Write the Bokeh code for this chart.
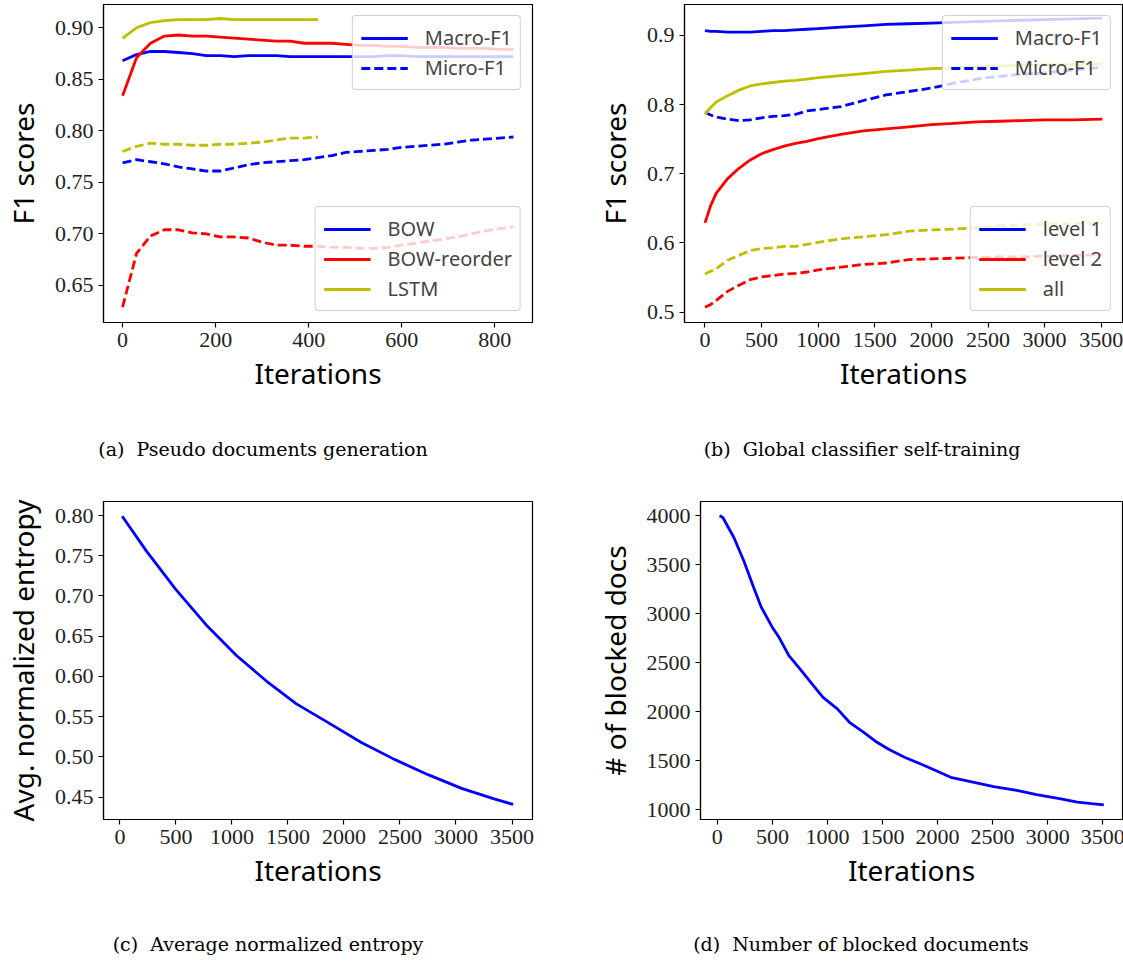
from bokeh.plotting import figure
from bokeh.models import (Range1d, FixedTicker, PrintfTickFormatter, Legend,
                          LegendItem, Div)
from bokeh.layouts import column, row
from bokeh.embed import file_html
from bokeh.resources import INLINE

# ---------------- data ----------------
# (a) pseudo documents generation
iters_a = [0, 30, 60, 90, 120, 150, 180, 210, 240, 270, 300, 330, 360, 390, 420,
           450, 480, 510, 540, 570, 600, 630, 660, 690, 720, 750, 780, 810, 840]
bow_macro = [0.868, 0.874, 0.877, 0.877, 0.876, 0.875, 0.873, 0.873, 0.872, 0.873,
             0.873, 0.873, 0.872, 0.872, 0.872, 0.872, 0.872, 0.872, 0.872, 0.873,
             0.873, 0.872, 0.872, 0.872, 0.872, 0.872, 0.872, 0.872, 0.872]
bow_micro = [0.769, 0.772, 0.770, 0.768, 0.765, 0.763, 0.761, 0.761, 0.764, 0.767,
             0.769, 0.770, 0.771, 0.772, 0.774, 0.776, 0.779, 0.780, 0.781, 0.782,
             0.784, 0.785, 0.786, 0.787, 0.789, 0.791, 0.792, 0.793, 0.794]
reorder_macro = [0.834, 0.871, 0.885, 0.892, 0.893, 0.892, 0.892, 0.891, 0.890, 0.889,
                 0.888, 0.887, 0.887, 0.885, 0.885, 0.885, 0.884, 0.883, 0.883, 0.882,
                 0.882, 0.881, 0.881, 0.881, 0.880, 0.880, 0.880, 0.879, 0.879]
reorder_micro = [0.629, 0.681, 0.698, 0.704, 0.704, 0.701, 0.700, 0.697, 0.697, 0.696,
                 0.692, 0.689, 0.689, 0.688, 0.688, 0.687, 0.687, 0.686, 0.686, 0.687,
                 0.689, 0.691, 0.693, 0.695, 0.697, 0.700, 0.703, 0.705, 0.707]
iters_lstm = [0, 30, 60, 90, 120, 150, 180, 210, 240, 270, 300, 330, 360, 390, 420]
lstm_macro = [0.890, 0.900, 0.905, 0.907, 0.908, 0.908, 0.908, 0.909, 0.908, 0.908,
              0.908, 0.908, 0.908, 0.908, 0.908]
lstm_micro = [0.780, 0.785, 0.788, 0.787, 0.787, 0.786, 0.786, 0.787, 0.787, 0.788,
              0.789, 0.791, 0.793, 0.793, 0.794]

# (b) global classifier self-training
iters_b = [0, 50, 100, 200, 300, 400, 500, 600, 700, 800, 900, 1000, 1200, 1400,
           1600, 1800, 2000, 2200, 2400, 2600, 2800, 3000, 3250, 3510]
lvl1_macro = [0.907, 0.906, 0.906, 0.905, 0.905, 0.905, 0.906, 0.907, 0.907, 0.908,
              0.909, 0.910, 0.912, 0.914, 0.916, 0.917, 0.918, 0.919, 0.920, 0.921,
              0.922, 0.923, 0.924, 0.925]
lvl1_micro = [0.789, 0.785, 0.782, 0.779, 0.777, 0.778, 0.781, 0.783, 0.784, 0.786,
              0.791, 0.793, 0.797, 0.806, 0.814, 0.819, 0.824, 0.831, 0.837, 0.841,
              0.844, 0.846, 0.850, 0.854]
lvl2_macro = [0.629, 0.654, 0.672, 0.693, 0.708, 0.720, 0.729, 0.735, 0.740, 0.744,
              0.747, 0.751, 0.757, 0.762, 0.765, 0.768, 0.771, 0.773, 0.775, 0.776,
              0.777, 0.778, 0.778, 0.779]
lvl2_micro = [0.507, 0.511, 0.517, 0.530, 0.539, 0.547, 0.551, 0.553, 0.555, 0.556,
              0.558, 0.561, 0.565, 0.569, 0.571, 0.576, 0.577, 0.578, 0.579, 0.580,
              0.580, 0.581, 0.582, 0.583]
all_macro = [0.786, 0.796, 0.804, 0.813, 0.821, 0.827, 0.830, 0.832, 0.834, 0.835,
             0.837, 0.839, 0.842, 0.845, 0.848, 0.850, 0.852, 0.853, 0.855, 0.856,
             0.857, 0.858, 0.858, 0.859]
all_micro = [0.555, 0.559, 0.563, 0.575, 0.582, 0.589, 0.592, 0.593, 0.595, 0.595,
             0.598, 0.601, 0.606, 0.609, 0.612, 0.617, 0.619, 0.620, 0.622, 0.625,
             0.626, 0.627, 0.628, 0.629]

# (c) average normalized entropy
iters_c = [20, 235, 500, 770, 1040, 1310, 1575, 1855, 2155, 2450, 2750, 3050,
           3340, 3510]
entropy = [0.799, 0.756, 0.708, 0.664, 0.626, 0.594, 0.566, 0.543, 0.518, 0.497,
           0.478, 0.461, 0.448, 0.441]

# (d) number of blocked documents
iters_d = [20, 50, 150, 240, 330, 400, 500, 560, 650, 750, 860, 960, 1090, 1200,
           1330, 1450, 1560, 1700, 1880, 2120, 2300, 2510, 2720, 2900, 3120, 3270,
           3400, 3510]
blocked = [4000, 3983, 3779, 3541, 3269, 3065, 2861, 2760, 2573, 2437, 2284, 2148,
           2030, 1893, 1791, 1689, 1615, 1536, 1452, 1332, 1288, 1237, 1197, 1156,
           1112, 1078, 1062, 1050]

captions = ["(a)&nbsp;&nbsp;Pseudo documents generation",
            "(b)&nbsp;&nbsp;Global classifier self-training",
            "(c)&nbsp;&nbsp;Average normalized entropy",
            "(d)&nbsp;&nbsp;Number of blocked documents"]

# ---------------- styling ----------------
BLUE, RED, OLIVE = "#0000ff", "#ff0000", "#bfbf00"
SERIF = "Liberation Serif"
SANS = "Noto Sans"
LW = 2.8
DASH = "9 4"


def make_fig(left, right, top, bottom, fw, fh, xr, yr, xticks, yticks, xfmt, yfmt,
             ylabel):
    p = figure(frame_width=fw, frame_height=fh,
               min_border_left=left, min_border_right=right,
               min_border_top=top, min_border_bottom=bottom,
               x_range=Range1d(*xr), y_range=Range1d(*yr),
               output_backend="svg", toolbar_location=None,
               background_fill_color="white", border_fill_color="white")
    p.grid.visible = False
    p.outline_line_color = "black"
    p.outline_line_width = 1.2
    p.outline_line_alpha = 1.0
    for ax, ticks, fmt in ((p.xaxis[0], xticks, xfmt), (p.yaxis[0], yticks, yfmt)):
        ax.ticker = FixedTicker(ticks=ticks)
        ax.formatter = PrintfTickFormatter(format=fmt)
        ax.minor_tick_line_color = None
        ax.major_tick_in = 0
        ax.major_tick_out = 5
        ax.major_tick_line_width = 1.2
        ax.axis_line_width = 1.2
        ax.axis_line_color = "black"
        ax.major_tick_line_color = "black"
        ax.major_label_text_font = SERIF
        ax.major_label_text_font_size = "22px"
        ax.major_label_text_color = "#222222"
        ax.major_label_standoff = 5
        ax.axis_label_text_font = SANS
        ax.axis_label_text_font_size = "28px"
        ax.axis_label_text_font_style = "normal"
        ax.axis_label_text_color = "black"
    p.xaxis.axis_label = "Iterations"
    p.xaxis.axis_label_standoff = 4
    p.yaxis.axis_label = ylabel
    p.yaxis.axis_label_standoff = 10
    return p


def make_caption(text, width, height, cx, cy):
    # caption line under a sub-figure, centred at (cx, cy) inside its strip
    html = ('<div style="display:inline-block; position:relative; '
            f'left:{cx}px; top:{cy}px; transform:translate(-50%,-50%); '
            "font-family:'DejaVu Serif'; font-size:19px; line-height:1; "
            f'white-space:nowrap; color:black;">{text}</div>')
    return Div(text=html, width=width, height=height,
               styles={"margin": "0", "padding": "0", "overflow": "visible"})


def make_legend(items, location):
    leg = Legend(items=items, location=location, margin=11,
                 glyph_width=47, glyph_height=20, label_height=20,
                 label_standoff=17, padding=8, spacing=3,
                 label_text_font=SANS, label_text_font_size="20px",
                 background_fill_color="white", background_fill_alpha=0.8,
                 border_line_color="#cccccc", border_line_width=1.2,
                 border_line_alpha=0.9)
    if "border_radius" in Legend.properties():
        leg.border_radius = 4
    return leg


# ---------------- (a) ----------------
pa = make_fig(99, 32, 4, 98, 429, 318, (-41, 881), (0.614, 0.9226),
              [0, 200, 400, 600, 800], [0.65, 0.70, 0.75, 0.80, 0.85, 0.90],
              "%d", "%.2f", "F1 scores")
ra_bow = pa.line(iters_a, bow_macro, line_color=BLUE, line_width=LW)
ra_bow_mi = pa.line(iters_a, bow_micro, line_color=BLUE, line_width=LW, line_dash=DASH)
ra_reo = pa.line(iters_a, reorder_macro, line_color=RED, line_width=LW)
pa.line(iters_a, reorder_micro, line_color=RED, line_width=LW, line_dash=DASH)
ra_lstm = pa.line(iters_lstm, lstm_macro, line_color=OLIVE, line_width=LW)
pa.line(iters_lstm, lstm_micro, line_color=OLIVE, line_width=LW, line_dash=DASH)

pa.add_layout(make_legend([LegendItem(label="Macro-F1", renderers=[ra_bow]),
                           LegendItem(label="Micro-F1", renderers=[ra_bow_mi])],
                          "top_right"), "center")
pa.add_layout(make_legend([LegendItem(label="BOW", renderers=[ra_bow]),
                           LegendItem(label="BOW-reorder", renderers=[ra_reo]),
                           LegendItem(label="LSTM", renderers=[ra_lstm])],
                          "bottom_right"), "center")

# ---------------- (b) ----------------
pb = make_fig(120, 5, 4, 98, 438, 318, (-181, 3688), (0.485, 0.9448),
              [0, 500, 1000, 1500, 2000, 2500, 3000, 3500],
              [0.5, 0.6, 0.7, 0.8, 0.9], "%d", "%.1f", "F1 scores")
rb_l1 = pb.line(iters_b, lvl1_macro, line_color=BLUE, line_width=LW)
rb_l1_mi = pb.line(iters_b, lvl1_micro, line_color=BLUE, line_width=LW, line_dash=DASH)
rb_l2 = pb.line(iters_b, lvl2_macro, line_color=RED, line_width=LW)
pb.line(iters_b, lvl2_micro, line_color=RED, line_width=LW, line_dash=DASH)
rb_all = pb.line(iters_b, all_macro, line_color=OLIVE, line_width=LW)
pb.line(iters_b, all_micro, line_color=OLIVE, line_width=LW, line_dash=DASH)

pb.add_layout(make_legend([LegendItem(label="Macro-F1", renderers=[rb_l1]),
                           LegendItem(label="Micro-F1", renderers=[rb_l1_mi])],
                          "top_right"), "center")
pb.add_layout(make_legend([LegendItem(label="level 1", renderers=[rb_l1]),
                           LegendItem(label="level 2", renderers=[rb_l2]),
                           LegendItem(label="all", renderers=[rb_all])],
                          "bottom_right"), "center")

# ---------------- (c) ----------------
pc = make_fig(99, 32, 21, 81, 429, 318, (-147, 3683), (0.4223, 0.8174),
              [0, 500, 1000, 1500, 2000, 2500, 3000, 3500],
              [0.45, 0.50, 0.55, 0.60, 0.65, 0.70, 0.75, 0.80], "%d", "%.2f",
              "Avg. normalized entropy")
pc.line(iters_c, entropy, line_color=BLUE, line_width=LW)

# ---------------- (d) ----------------
pd_ = make_fig(136, 5, 21, 81, 422, 318, (-153, 3680), (901, 4146),
               [0, 500, 1000, 1500, 2000, 2500, 3000, 3500],
               [1000, 1500, 2000, 2500, 3000, 3500, 4000], "%d", "%d",
               "# of blocked docs")
pd_.line(iters_d, blocked, line_color=BLUE, line_width=LW)

cap_a = make_caption(captions[0], 560, 60, 263, 29)
cap_b = make_caption(captions[1], 563, 60, 302, 29)
cap_c = make_caption(captions[2], 560, 61, 268, 44)
cap_d = make_caption(captions[3], 563, 61, 301, 44)

layout = column(row(pa, pb), row(cap_a, cap_b),
                row(pc, pd_), row(cap_c, cap_d))
open("out.html", "w").write(file_html(layout, INLINE))
